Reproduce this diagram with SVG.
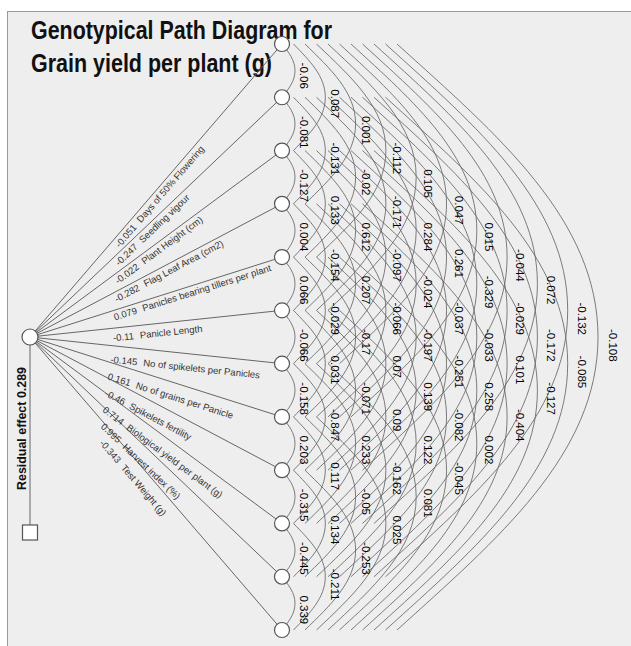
<svg xmlns="http://www.w3.org/2000/svg" width="631" height="646" viewBox="0 0 631 646">
<style>
.bg{fill:#eeeeee;stroke:#9a9a9a;stroke-width:1}
.title{font-family:"Liberation Sans",Arial,sans-serif;font-weight:bold;font-size:26px;fill:#111}
.res{font-family:"Liberation Sans",Arial,sans-serif;font-weight:bold;font-size:13.5px;fill:#111}
.arc{fill:none;stroke:#666;stroke-width:0.85}
.ray{fill:none;stroke:#666;stroke-width:1}
.node{fill:#fff;stroke:#555;stroke-width:1.2}
.cv{font-family:"Liberation Sans",Arial,sans-serif;font-size:11.5px;fill:#000}
.lab{font-family:"Liberation Sans",Arial,sans-serif;font-size:9.5px;fill:#333}
</style>
<rect x="0" y="0" width="631" height="646" fill="#fff"/>
<rect class="bg" x="7.5" y="11.5" width="630" height="640"/>
<g id="title">
<text class="title" x="31" y="39" textLength="301" lengthAdjust="spacingAndGlyphs">Genotypical Path Diagram for</text>
<text class="title" x="31" y="72" textLength="241" lengthAdjust="spacingAndGlyphs">Grain yield per plant (g)</text>
</g>
<g id="connectors">
<path class="arc" d="M282,44 c6.5,8.26 13,15.98 13,26.64 s-6.5,18.38 -13,26.64"/>
<path class="arc" d="M282,97.27 c6.5,8.26 13,15.98 13,26.64 s-6.5,18.38 -13,26.64"/>
<path class="arc" d="M282,150.55 c6.5,8.26 13,15.98 13,26.64 s-6.5,18.38 -13,26.64"/>
<path class="arc" d="M282,203.82 c6.5,8.26 13,15.98 13,26.64 s-6.5,18.38 -13,26.64"/>
<path class="arc" d="M282,257.09 c6.5,8.26 13,15.98 13,26.64 s-6.5,18.38 -13,26.64"/>
<path class="arc" d="M282,310.36 c6.5,8.26 13,15.98 13,26.64 s-6.5,18.38 -13,26.64"/>
<path class="arc" d="M282,363.64 c6.5,8.26 13,15.98 13,26.64 s-6.5,18.38 -13,26.64"/>
<path class="arc" d="M282,416.91 c6.5,8.26 13,15.98 13,26.64 s-6.5,18.38 -13,26.64"/>
<path class="arc" d="M282,470.18 c6.5,8.26 13,15.98 13,26.64 s-6.5,18.38 -13,26.64"/>
<path class="arc" d="M282,523.45 c6.5,8.26 13,15.98 13,26.64 s-6.5,18.38 -13,26.64"/>
<path class="arc" d="M282,576.73 c6.5,8.26 13,15.98 13,26.64 s-6.5,18.38 -13,26.64"/>
<path class="arc" d="M293.5,44 c15.9,16.51 31.8,31.96 31.8,53.27 s-15.9,36.76 -31.8,53.27"/>
<path class="arc" d="M293.5,97.27 c15.9,16.51 31.8,31.96 31.8,53.27 s-15.9,36.76 -31.8,53.27"/>
<path class="arc" d="M293.5,150.55 c15.9,16.51 31.8,31.96 31.8,53.27 s-15.9,36.76 -31.8,53.27"/>
<path class="arc" d="M293.5,203.82 c15.9,16.51 31.8,31.96 31.8,53.27 s-15.9,36.76 -31.8,53.27"/>
<path class="arc" d="M293.5,257.09 c15.9,16.51 31.8,31.96 31.8,53.27 s-15.9,36.76 -31.8,53.27"/>
<path class="arc" d="M293.5,310.36 c15.9,16.51 31.8,31.96 31.8,53.27 s-15.9,36.76 -31.8,53.27"/>
<path class="arc" d="M293.5,363.64 c15.9,16.51 31.8,31.96 31.8,53.27 s-15.9,36.76 -31.8,53.27"/>
<path class="arc" d="M293.5,416.91 c15.9,16.51 31.8,31.96 31.8,53.27 s-15.9,36.76 -31.8,53.27"/>
<path class="arc" d="M293.5,470.18 c15.9,16.51 31.8,31.96 31.8,53.27 s-15.9,36.76 -31.8,53.27"/>
<path class="arc" d="M293.5,523.45 c15.9,16.51 31.8,31.96 31.8,53.27 s-15.9,36.76 -31.8,53.27"/>
<path class="arc" d="M305,44 c25.3,24.77 50.6,47.95 50.6,79.91 s-25.3,55.14 -50.6,79.91"/>
<path class="arc" d="M305,97.27 c25.3,24.77 50.6,47.95 50.6,79.91 s-25.3,55.14 -50.6,79.91"/>
<path class="arc" d="M305,150.55 c25.3,24.77 50.6,47.95 50.6,79.91 s-25.3,55.14 -50.6,79.91"/>
<path class="arc" d="M305,203.82 c25.3,24.77 50.6,47.95 50.6,79.91 s-25.3,55.14 -50.6,79.91"/>
<path class="arc" d="M305,257.09 c25.3,24.77 50.6,47.95 50.6,79.91 s-25.3,55.14 -50.6,79.91"/>
<path class="arc" d="M305,310.36 c25.3,24.77 50.6,47.95 50.6,79.91 s-25.3,55.14 -50.6,79.91"/>
<path class="arc" d="M305,363.64 c25.3,24.77 50.6,47.95 50.6,79.91 s-25.3,55.14 -50.6,79.91"/>
<path class="arc" d="M305,416.91 c25.3,24.77 50.6,47.95 50.6,79.91 s-25.3,55.14 -50.6,79.91"/>
<path class="arc" d="M305,470.18 c25.3,24.77 50.6,47.95 50.6,79.91 s-25.3,55.14 -50.6,79.91"/>
<path class="arc" d="M316.5,44 c34.7,33.03 69.4,63.93 69.4,106.55 s-34.7,73.52 -69.4,106.55"/>
<path class="arc" d="M316.5,97.27 c34.7,33.03 69.4,63.93 69.4,106.55 s-34.7,73.52 -69.4,106.55"/>
<path class="arc" d="M316.5,150.55 c34.7,33.03 69.4,63.93 69.4,106.55 s-34.7,73.52 -69.4,106.55"/>
<path class="arc" d="M316.5,203.82 c34.7,33.03 69.4,63.93 69.4,106.55 s-34.7,73.52 -69.4,106.55"/>
<path class="arc" d="M316.5,257.09 c34.7,33.03 69.4,63.93 69.4,106.55 s-34.7,73.52 -69.4,106.55"/>
<path class="arc" d="M316.5,310.36 c34.7,33.03 69.4,63.93 69.4,106.55 s-34.7,73.52 -69.4,106.55"/>
<path class="arc" d="M316.5,363.64 c34.7,33.03 69.4,63.93 69.4,106.55 s-34.7,73.52 -69.4,106.55"/>
<path class="arc" d="M316.5,416.91 c34.7,33.03 69.4,63.93 69.4,106.55 s-34.7,73.52 -69.4,106.55"/>
<path class="arc" d="M328,44 c44.1,41.29 88.2,79.91 88.2,133.18 s-44.1,91.89 -88.2,133.18"/>
<path class="arc" d="M328,97.27 c44.1,41.29 88.2,79.91 88.2,133.18 s-44.1,91.89 -88.2,133.18"/>
<path class="arc" d="M328,150.55 c44.1,41.29 88.2,79.91 88.2,133.18 s-44.1,91.89 -88.2,133.18"/>
<path class="arc" d="M328,203.82 c44.1,41.29 88.2,79.91 88.2,133.18 s-44.1,91.89 -88.2,133.18"/>
<path class="arc" d="M328,257.09 c44.1,41.29 88.2,79.91 88.2,133.18 s-44.1,91.89 -88.2,133.18"/>
<path class="arc" d="M328,310.36 c44.1,41.29 88.2,79.91 88.2,133.18 s-44.1,91.89 -88.2,133.18"/>
<path class="arc" d="M328,363.64 c44.1,41.29 88.2,79.91 88.2,133.18 s-44.1,91.89 -88.2,133.18"/>
<path class="arc" d="M339.5,44 c53.5,49.54 107,95.89 107,159.82 s-53.5,110.28 -107,159.82"/>
<path class="arc" d="M339.5,97.27 c53.5,49.54 107,95.89 107,159.82 s-53.5,110.28 -107,159.82"/>
<path class="arc" d="M339.5,150.55 c53.5,49.54 107,95.89 107,159.82 s-53.5,110.28 -107,159.82"/>
<path class="arc" d="M339.5,203.82 c53.5,49.54 107,95.89 107,159.82 s-53.5,110.28 -107,159.82"/>
<path class="arc" d="M339.5,257.09 c53.5,49.54 107,95.89 107,159.82 s-53.5,110.28 -107,159.82"/>
<path class="arc" d="M339.5,310.36 c53.5,49.54 107,95.89 107,159.82 s-53.5,110.28 -107,159.82"/>
<path class="arc" d="M351,44 c62.9,57.8 125.8,111.87 125.8,186.45 s-62.9,128.65 -125.8,186.45"/>
<path class="arc" d="M351,97.27 c62.9,57.8 125.8,111.87 125.8,186.45 s-62.9,128.65 -125.8,186.45"/>
<path class="arc" d="M351,150.55 c62.9,57.8 125.8,111.87 125.8,186.45 s-62.9,128.65 -125.8,186.45"/>
<path class="arc" d="M351,203.82 c62.9,57.8 125.8,111.87 125.8,186.45 s-62.9,128.65 -125.8,186.45"/>
<path class="arc" d="M351,257.09 c62.9,57.8 125.8,111.87 125.8,186.45 s-62.9,128.65 -125.8,186.45"/>
<path class="arc" d="M362.5,44 c72.3,66.06 144.6,127.85 144.6,213.09 s-72.3,147.03 -144.6,213.09"/>
<path class="arc" d="M362.5,97.27 c72.3,66.06 144.6,127.85 144.6,213.09 s-72.3,147.03 -144.6,213.09"/>
<path class="arc" d="M362.5,150.55 c72.3,66.06 144.6,127.85 144.6,213.09 s-72.3,147.03 -144.6,213.09"/>
<path class="arc" d="M362.5,203.82 c72.3,66.06 144.6,127.85 144.6,213.09 s-72.3,147.03 -144.6,213.09"/>
<path class="arc" d="M374,44 c81.7,74.32 163.4,143.84 163.4,239.73 s-81.7,165.41 -163.4,239.73"/>
<path class="arc" d="M374,97.27 c81.7,74.32 163.4,143.84 163.4,239.73 s-81.7,165.41 -163.4,239.73"/>
<path class="arc" d="M374,150.55 c81.7,74.32 163.4,143.84 163.4,239.73 s-81.7,165.41 -163.4,239.73"/>
<path class="arc" d="M385.5,44 c91.1,82.57 182.2,159.82 182.2,266.36 s-91.1,183.79 -182.2,266.36"/>
<path class="arc" d="M385.5,97.27 c91.1,82.57 182.2,159.82 182.2,266.36 s-91.1,183.79 -182.2,266.36"/>
<path class="arc" d="M397,44 c100.5,90.83 201,175.8 201,293 s-100.5,202.17 -201,293"/>
<path class="ray" d="M30,337 L282,44"/>
<path class="ray" d="M30,337 L282,97.27"/>
<path class="ray" d="M30,337 L282,150.55"/>
<path class="ray" d="M30,337 L282,203.82"/>
<path class="ray" d="M30,337 L282,257.09"/>
<path class="ray" d="M30,337 L282,310.36"/>
<path class="ray" d="M30,337 L282,363.64"/>
<path class="ray" d="M30,337 L282,416.91"/>
<path class="ray" d="M30,337 L282,470.18"/>
<path class="ray" d="M30,337 L282,523.45"/>
<path class="ray" d="M30,337 L282,576.73"/>
<path class="ray" d="M30,337 L282,630"/>
<path class="ray" d="M30,345 L30,525"/>
</g>
<g id="path-labels">
<text class="lab" transform="translate(119.6,248.2) rotate(-49.3)">-0.051<tspan dx="6">Days of 50% Flowering</tspan></text>
<text class="lab" transform="translate(118.9,266.2) rotate(-43.57)">-0.247<tspan dx="6">Seedling vigour</tspan></text>
<text class="lab" transform="translate(118,284.4) rotate(-36.5)">-0.022<tspan dx="6">Plant  Height (cm)</tspan></text>
<text class="lab" transform="translate(116.7,302.5) rotate(-27.86)">-0.282<tspan dx="6">Flag Leaf Area (cm2)</tspan></text>
<text class="lab" transform="translate(115,320.5) rotate(-17.59)">0.079<tspan dx="6">Panicles bearing tillers per plant</tspan></text>
<text class="lab" transform="translate(113.4,341.3) rotate(-6.03)">-0.11<tspan dx="6">Panicle Length</tspan></text>
<text class="lab" transform="translate(110.2,362.6) rotate(6.03)">-0.145<tspan dx="6">No of spikelets per Panicles</tspan></text>
<text class="lab" transform="translate(106.9,379.2) rotate(17.59)">0.161<tspan dx="6">No of grains per Panicle</tspan></text>
<text class="lab" transform="translate(104.1,395.4) rotate(27.86)">-0.46<tspan dx="6">Spikelets fertility</tspan></text>
<text class="lab" transform="translate(101.9,411.3) rotate(36.5)">0.714<tspan dx="6">Biological yield per plant (g)</tspan></text>
<text class="lab" transform="translate(100.3,427.3) rotate(43.57)">0.995<tspan dx="6">Harvest index (%)</tspan></text>
<text class="lab" transform="translate(99.1,443.4) rotate(49.3)">-0.343<tspan dx="6">Test Weight (g)</tspan></text>
<text class="res" transform="translate(25.5,490) rotate(-90)" textLength="123" lengthAdjust="spacingAndGlyphs">Residual effect  0.289</text>
</g>
<g id="correlation-labels">
<text class="cv" transform="translate(300,62.6) rotate(90)">-0.06</text>
<text class="cv" transform="translate(300,115.9) rotate(90)">-0.081</text>
<text class="cv" transform="translate(300,169.2) rotate(90)">-0.127</text>
<text class="cv" transform="translate(300,222.5) rotate(90)">0.004</text>
<text class="cv" transform="translate(300,275.7) rotate(90)">0.066</text>
<text class="cv" transform="translate(300,329) rotate(90)">-0.066</text>
<text class="cv" transform="translate(300,382.3) rotate(90)">-0.158</text>
<text class="cv" transform="translate(300,435.5) rotate(90)">0.203</text>
<text class="cv" transform="translate(300,488.8) rotate(90)">-0.315</text>
<text class="cv" transform="translate(300,542.1) rotate(90)">-0.445</text>
<text class="cv" transform="translate(300,595.4) rotate(90)">0.339</text>
<text class="cv" transform="translate(330.9,89.3) rotate(90)">0.087</text>
<text class="cv" transform="translate(330.9,142.5) rotate(90)">-0.131</text>
<text class="cv" transform="translate(330.9,195.8) rotate(90)">0.133</text>
<text class="cv" transform="translate(330.9,249.1) rotate(90)">-0.154</text>
<text class="cv" transform="translate(330.9,302.4) rotate(90)">-0.029</text>
<text class="cv" transform="translate(330.9,355.6) rotate(90)">0.031</text>
<text class="cv" transform="translate(330.9,408.9) rotate(90)">-0.847</text>
<text class="cv" transform="translate(330.9,462.2) rotate(90)">0.117</text>
<text class="cv" transform="translate(330.9,515.5) rotate(90)">0.134</text>
<text class="cv" transform="translate(330.9,568.7) rotate(90)">-0.211</text>
<text class="cv" transform="translate(361.8,115.9) rotate(90)">0.001</text>
<text class="cv" transform="translate(361.8,169.2) rotate(90)">-0.02</text>
<text class="cv" transform="translate(361.8,222.5) rotate(90)">0.612</text>
<text class="cv" transform="translate(361.8,275.7) rotate(90)">0.207</text>
<text class="cv" transform="translate(361.8,329) rotate(90)">-0.17</text>
<text class="cv" transform="translate(361.8,382.3) rotate(90)">-0.071</text>
<text class="cv" transform="translate(361.8,435.5) rotate(90)">0.233</text>
<text class="cv" transform="translate(361.8,488.8) rotate(90)">-0.05</text>
<text class="cv" transform="translate(361.8,542.1) rotate(90)">-0.253</text>
<text class="cv" transform="translate(392.7,142.5) rotate(90)">-0.112</text>
<text class="cv" transform="translate(392.7,195.8) rotate(90)">-0.171</text>
<text class="cv" transform="translate(392.7,249.1) rotate(90)">-0.097</text>
<text class="cv" transform="translate(392.7,302.4) rotate(90)">-0.066</text>
<text class="cv" transform="translate(392.7,355.6) rotate(90)">0.07</text>
<text class="cv" transform="translate(392.7,408.9) rotate(90)">0.09</text>
<text class="cv" transform="translate(392.7,462.2) rotate(90)">-0.162</text>
<text class="cv" transform="translate(392.7,515.5) rotate(90)">0.025</text>
<text class="cv" transform="translate(423.6,169.2) rotate(90)">0.105</text>
<text class="cv" transform="translate(423.6,222.5) rotate(90)">0.284</text>
<text class="cv" transform="translate(423.6,275.7) rotate(90)">-0.024</text>
<text class="cv" transform="translate(423.6,329) rotate(90)">-0.197</text>
<text class="cv" transform="translate(423.6,382.3) rotate(90)">0.139</text>
<text class="cv" transform="translate(423.6,435.5) rotate(90)">0.122</text>
<text class="cv" transform="translate(423.6,488.8) rotate(90)">0.081</text>
<text class="cv" transform="translate(454.5,195.8) rotate(90)">0.047</text>
<text class="cv" transform="translate(454.5,249.1) rotate(90)">0.261</text>
<text class="cv" transform="translate(454.5,302.4) rotate(90)">-0.037</text>
<text class="cv" transform="translate(454.5,355.6) rotate(90)">-0.251</text>
<text class="cv" transform="translate(454.5,408.9) rotate(90)">-0.082</text>
<text class="cv" transform="translate(454.5,462.2) rotate(90)">-0.045</text>
<text class="cv" transform="translate(485.4,222.5) rotate(90)">0.015</text>
<text class="cv" transform="translate(485.4,275.7) rotate(90)">-0.329</text>
<text class="cv" transform="translate(485.4,329) rotate(90)">-0.033</text>
<text class="cv" transform="translate(485.4,382.3) rotate(90)">0.258</text>
<text class="cv" transform="translate(485.4,435.5) rotate(90)">0.002</text>
<text class="cv" transform="translate(516.3,249.1) rotate(90)">-0.044</text>
<text class="cv" transform="translate(516.3,302.4) rotate(90)">-0.029</text>
<text class="cv" transform="translate(516.3,355.6) rotate(90)">0.101</text>
<text class="cv" transform="translate(516.3,408.9) rotate(90)">-0.404</text>
<text class="cv" transform="translate(547.2,275.7) rotate(90)">0.072</text>
<text class="cv" transform="translate(547.2,329) rotate(90)">-0.172</text>
<text class="cv" transform="translate(547.2,382.3) rotate(90)">-0.127</text>
<text class="cv" transform="translate(578.1,302.4) rotate(90)">-0.132</text>
<text class="cv" transform="translate(578.1,355.6) rotate(90)">-0.085</text>
<text class="cv" transform="translate(609,329) rotate(90)">-0.108</text>
</g>
<g id="node-grain-yield"><circle class="node" cx="30" cy="337" r="8"/></g>
<g id="node-residual"><rect class="node" x="22.5" y="525" width="15" height="15"/></g>
<g id="node-1"><circle class="node" cx="282" cy="44" r="7.5"/></g>
<g id="node-2"><circle class="node" cx="282" cy="97.27" r="7.5"/></g>
<g id="node-3"><circle class="node" cx="282" cy="150.55" r="7.5"/></g>
<g id="node-4"><circle class="node" cx="282" cy="203.82" r="7.5"/></g>
<g id="node-5"><circle class="node" cx="282" cy="257.09" r="7.5"/></g>
<g id="node-6"><circle class="node" cx="282" cy="310.36" r="7.5"/></g>
<g id="node-7"><circle class="node" cx="282" cy="363.64" r="7.5"/></g>
<g id="node-8"><circle class="node" cx="282" cy="416.91" r="7.5"/></g>
<g id="node-9"><circle class="node" cx="282" cy="470.18" r="7.5"/></g>
<g id="node-10"><circle class="node" cx="282" cy="523.45" r="7.5"/></g>
<g id="node-11"><circle class="node" cx="282" cy="576.73" r="7.5"/></g>
<g id="node-12"><circle class="node" cx="282" cy="630" r="7.5"/></g>
</svg>
